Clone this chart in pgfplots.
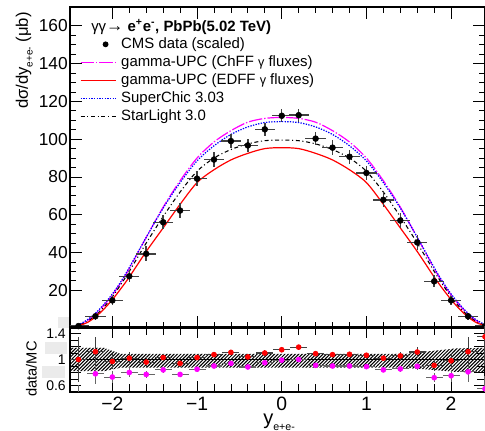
\documentclass[border=0pt]{standalone}
\usepackage{fontspec}
\setmainfont{Liberation Sans}
\usepackage{pgfplots}
\pgfplotsset{compat=1.18}
\usepackage{pgfplotstable}
\usetikzlibrary{patterns}

\definecolor{rootmag}{RGB}{255,0,255}
\definecolor{rootred}{RGB}{255,0,0}
\definecolor{rootblue}{RGB}{0,0,255}
\definecolor{padgray}{RGB}{235,235,235}

% denser hatching for the uncertainty band
\pgfdeclarepatternformonly{densehatch}{\pgfqpoint{-1pt}{-1pt}}{\pgfqpoint{3.6pt}{3.6pt}}{\pgfqpoint{2.6pt}{2.6pt}}{
  \pgfsetlinewidth{0.75pt}
  \pgfpathmoveto{\pgfqpoint{-0.1pt}{-0.1pt}}
  \pgfpathlineto{\pgfqpoint{2.7pt}{2.7pt}}
  \pgfusepath{stroke}}

% CMS data (scaled)
\pgfplotstableread{
x     y      ex    ey
-2.4  1.0    0.12  0.6
-2.2  6.2    0.12  2.0
-2.0  14.6   0.12  2.6
-1.8  27.4   0.12  3.2
-1.6  39.3   0.12  4.0
-1.4  56.0   0.12  3.8
-1.2  62.2   0.12  3.8
-1.0  79.1   0.12  4.0
-0.8  89.2   0.12  4.0
-0.6  99.0   0.12  3.6
-0.4  96.7   0.12  3.6
-0.2  105.2  0.12  3.6
0.0   112.4  0.12  3.4
0.2   112.7  0.12  3.4
0.4   100.3  0.12  3.6
0.6   95.5   0.12  3.8
0.8   90.7   0.12  3.8
1.0   82.1   0.12  3.8
1.2   67.9   0.12  4.0
1.4   56.9   0.12  3.8
1.6   45.3   0.12  4.0
1.8   24.7   0.12  3.2
2.0   14.6   0.12  2.6
2.2   6.2    0.12  2.0
2.4   1.0    0.12  0.6
}\cmsdata

% model curves
\pgfplotstableread{
x     mag    red    blue   star
-2.5  0.4    0.4    0.5    0.4
-2.4  1.5    1.2    1.8    1.4
-2.3  3.8    2.8    4.2    3.3
-2.2  7.4    5.8    7.8    6.5
-2.1  12.0   10.0   12.5   11.0
-2.0  17.5   15.0   18.0   16.5
-1.9  24.0   20.8   24.5   23.0
-1.8  31.5   27.0   32.0   30.0
-1.6  48.0   40.5   48.0   45.0
-1.4  64.0   53.0   63.5   59.0
-1.2  78.0   65.5   77.0   72.0
-1.0  90.0   77.0   88.5   83.0
-0.8  98.5   83.8   96.5   90.0
-0.6  104.5  89.0   102.5  94.5
-0.4  109.0  92.5   106.5  97.5
-0.2  111.0  95.0   108.8  99.2
0.0   111.5  95.5   109.3  99.5
0.2   111.0  95.0   108.8  99.2
0.4   109.0  92.5   106.5  97.5
0.6   104.5  89.0   102.5  94.5
0.8   98.5   83.8   96.5   90.0
1.0   90.0   77.0   88.5   83.0
1.2   78.0   65.5   77.0   72.0
1.4   64.0   53.0   63.5   59.0
1.6   48.0   40.5   48.0   45.0
1.8   31.5   27.0   32.0   30.0
1.9   24.0   20.8   24.5   23.0
2.0   17.5   15.0   18.0   16.5
2.1   12.0   10.0   12.5   11.0
2.2   7.4    5.8    7.8    6.5
2.3   3.8    2.8    4.2    3.3
2.4   1.5    1.2    1.8    1.4
}\models

% data/MC ratios
\pgfplotstableread{
x     rred   ered   rmag   emag
-2.4  1.00   0.35   0.45   0.16
-2.2  1.12   0.22   0.78   0.16
-2.0  0.97   0.12   0.73   0.09
-1.8  1.02   0.09   0.80   0.07
-1.6  0.96   0.08   0.77   0.06
-1.4  1.03   0.06   0.84   0.05
-1.2  0.94   0.05   0.77   0.04
-1.0  1.03   0.04   0.85   0.035
-0.8  1.075  0.04   0.90   0.035
-0.6  1.11   0.04   0.94   0.035
-0.4  1.04   0.04   0.885  0.035
-0.2  1.10   0.04   0.95   0.035
0.0   1.15   0.04   0.99   0.035
0.2   1.19   0.04   1.00   0.035
0.4   1.09   0.04   0.91   0.035
0.6   1.075  0.04   0.90   0.035
0.8   1.08   0.04   0.90   0.035
1.0   1.065  0.04   0.89   0.035
1.2   1.02   0.05   0.84   0.04
1.4   1.055  0.06   0.855  0.05
1.6   1.115  0.08   0.895  0.06
1.8   0.91   0.09   0.72   0.07
2.0   0.98   0.12   0.75   0.09
2.2   1.12   0.22   0.81   0.16
2.4   1.35   0.45   0.55   0.2
}\ratios

\pgfplotsset{
  datalegend/.style={legend image code/.code={\path[draw=none] (0pt,0pt) -- (26.25pt,0pt);
    \fill[black, draw=none] (18.75pt,0pt) circle (2.2pt);}},
}

\begin{document}
\begin{tikzpicture}
% grey label patches left of the frame
\fill[padgray] (43.5pt,77.25pt) rectangle (52.5pt,85.5pt);
\fill[padgray] (33.75pt,57.75pt) rectangle (50.25pt,66.75pt);
\fill[padgray] (31.5pt,39.75pt) rectangle (48.75pt,48.75pt);

\begin{axis}[
  at={(52.5pt,77.25pt)}, anchor=south west,
  scale only axis, width=311.25pt, height=240.75pt,
  xmin=-2.5, xmax=2.4, ymin=0, ymax=170,
  xtick={-2,-1,0,1,2}, xticklabels={}, minor x tick num=4,
  ytick={20,40,...,160}, minor y tick num=3,
  major tick length=9pt, minor tick length=4.5pt,
  tick style={black, line width=0.6pt},
  axis line style={line width=0.8pt},
  /pgf/number format/assume math mode=true,
  yticklabel style={font=\fontsize{13}{13}\selectfont, inner xsep=1.5pt},
  legend cell align=left,
  legend style={at={(axis description cs:0.0241,0.9065)}, anchor=north west,
    draw=none, fill=none, inner sep=0pt, outer sep=0pt,
    font=\fontsize{11.2}{12}\selectfont, row sep=2.5pt, column sep=3.75pt,
    nodes={inner sep=0pt, text height=8.5pt, text depth=2.5pt}},
  legend image code/.code={\draw[#1] (0pt,0pt) -- (26.25pt,0pt);},
]
\addlegendimage{draw=none, datalegend}
\addlegendentry{CMS data (scaled)}
\addlegendimage{rootmag, line width=0.9pt, dash pattern=on 10pt off 1.5pt on 1pt off 1.5pt}
\addlegendentry{gamma-UPC (ChFF {\fontsize{9.5}{10}\selectfont γ} fluxes)}
\addlegendimage{rootred, line width=0.9pt}
\addlegendentry{gamma-UPC (EDFF {\fontsize{9.5}{10}\selectfont γ} fluxes)}
\addlegendimage{rootblue, line width=0.9pt, dash pattern=on 1pt off 1pt}
\addlegendentry{SuperChic 3.03}
\addlegendimage{black, line width=0.8pt, dash pattern=on 3pt off 2pt on 0.8pt off 2pt}
\addlegendentry{StarLight 3.0}

\addplot[rootmag, line width=0.9pt, smooth, tension=0.5, forget plot,
  dash pattern=on 10pt off 1.5pt on 1pt off 1.5pt] table[x=x, y=mag] {\models};
\addplot[rootblue, line width=0.9pt, smooth, tension=0.5, forget plot,
  dash pattern=on 1pt off 1pt] table[x=x, y=blue] {\models};
\addplot[black, line width=0.8pt, smooth, tension=0.5, forget plot,
  dash pattern=on 3pt off 2pt on 0.8pt off 2pt] table[x=x, y=star] {\models};
\addplot[rootred, line width=0.9pt, smooth, tension=0.5, forget plot]
  table[x=x, y=red] {\models};

\addplot[black, only marks, mark=*, mark size=2.2pt, forget plot,
  error bars/.cd, x dir=both, x explicit, y dir=both, y explicit,
  error mark=none, error bar style={black!75, line width=1.1pt}]
  table[x=x, y=y, x error=ex, y error=ey] {\cmsdata};
\end{axis}

\begin{axis}[
  at={(52.5pt,29.25pt)}, anchor=south west,
  scale only axis, width=311.25pt, height=48.75pt,
  xmin=-2.5, xmax=2.4, ymin=0.5, ymax=1.5,
  xtick={-2,-1,0,1,2}, xticklabels={−2,−1,0,1,2}, minor x tick num=4,
  ytick={0.6,0.8,1,1.2,1.4}, yticklabels={0.6,,1,,1.4}, minor y tick num=1,
  major tick length=8pt, minor tick length=6pt,
  tick style={black, line width=0.6pt},
  axis line style={line width=0.8pt},
  xticklabel style={font=\fontsize{14.5}{15}\selectfont},
  yticklabel style={font=\fontsize{10.5}{11}\selectfont, inner xsep=3pt},
]
\addplot[draw=none, pattern=densehatch, pattern color=black] coordinates {
  (-2.5,1.18) (-2.1,1.18) (-1.9,1.085) (1.45,1.085) (2.05,1.17) (2.4,1.18)
  (2.4,0.80) (2.05,0.81) (1.45,0.875) (-1.9,0.875) (-2.1,0.82) (-2.5,0.82)
};
\addplot[black, line width=0.7pt] coordinates {(-2.5,1) (2.4,1)};

\addplot[rootmag, only marks, mark=*, mark size=1.9pt,
  error bars/.cd, x dir=both, x fixed=0.1, y dir=both, y explicit,
  error mark=none, error bar style={black!60, line width=0.8pt}]
  table[x=x, y=rmag, y error=emag] {\ratios};
\addplot[rootred, only marks, mark=*, mark size=1.9pt,
  error bars/.cd, x dir=both, x fixed=0.1, y dir=both, y explicit,
  error mark=none, error bar style={black!75, line width=0.8pt}]
  table[x=x, y=rred, y error=ered] {\ratios};
\end{axis}

% header of the legend
\node[anchor=west, inner sep=0pt, font=\fontsize{11.2}{12}\selectfont]
  at (68.25pt,303pt) {γγ{\fontsize{13}{13}\selectfont →} \textbf{e\textsuperscript{+}e\textsuperscript{-}, PbPb(5.02 TeV)}};
% axis titles
\node[rotate=90, anchor=base east, inner sep=0pt, font=\fontsize{12.5}{13}\selectfont]
  at (21pt,314.25pt) {dσ/dy\raisebox{-3.5pt}{\fontsize{7.5}{8}\selectfont e+e-} (μb)};
\node[rotate=90, anchor=base, inner sep=0pt, font=\fontsize{11}{12}\selectfont]
  at (27.5pt,46.5pt) {data/MC};
\node[anchor=base west, inner sep=0pt, font=\fontsize{15}{16}\selectfont]
  at (197.25pt,4.5pt) {y\raisebox{-4pt}{\fontsize{8}{9}\selectfont e+e-}};

\pgfresetboundingbox
\path[use as bounding box] (0pt,0pt) rectangle (363.75pt,323.25pt);
\end{tikzpicture}
\end{document}
